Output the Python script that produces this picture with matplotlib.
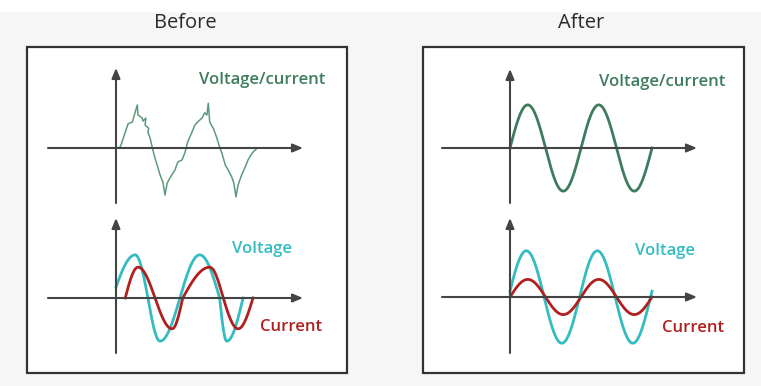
"""
Before/after power factor correction sketch: distorted voltage/current
on the left, clean in-phase sine waves on the right.
"""

import numpy as np
import matplotlib.pyplot as plt
from matplotlib.patches import Rectangle

W, H = 761, 386

# ── data (time in cycles, amplitude normalised) ──
noisy_t = [0.00, 0.06, 0.17, 0.23, 0.30, 0.31, 0.37, 0.38, 0.42, 0.41, 0.46, 0.45,
           0.48, 0.52, 0.55, 0.58, 0.62, 0.66, 0.69, 0.72, 0.76, 0.83, 0.87, 0.93,
           0.97, 1.01, 1.07, 1.11, 1.15, 1.21, 1.25, 1.28, 1.30, 1.32, 1.37, 1.42,
           1.46, 1.49, 1.54, 1.58, 1.63, 1.66, 1.69, 1.72, 1.77, 1.82, 1.86, 1.92, 1.99]
noisy_v = [0.00, 0.02, 0.55, 0.59, 0.98, 0.75, 0.68, 0.61, 0.68, 0.52, 0.45, 0.36,
           0.23, -0.05, -0.23, -0.39, -0.61, -0.77, -1.07, -0.80, -0.68, -0.50, -0.32, -0.27,
           -0.11, 0.14, 0.36, 0.52, 0.59, 0.68, 0.80, 0.75, 1.02, 0.59, 0.45, 0.23,
           0.02, -0.11, -0.39, -0.50, -0.66, -0.80, -1.11, -0.84, -0.61, -0.43, -0.27, -0.11, 0.00]

# "Before" bottom: distorted waves, given as (time, phase) knots
before_volt_t = [0.00, 0.27, 0.45, 0.62, 0.90, 1.18, 1.46, 1.56, 1.79]
before_volt_phase = [0.04, 0.25, 0.50, 0.75, 1.00, 1.25, 1.50, 1.75, 2.00]
before_volt_amp = 0.98
before_curr_t = [0.13, 0.31, 0.55, 0.79, 0.94, 1.32, 1.51, 1.72, 1.93]
before_curr_phase = [0.00, 0.25, 0.50, 0.75, 1.00, 1.25, 1.50, 1.75, 2.00]
before_curr_amp = 0.70

# "After": clean sines, two cycles
after_cycles = 2.0
after_top_amp = 0.98
after_volt_amp = 1.05
after_volt_phase = 0.02
after_curr_amp = 0.40

titles = ["Before", "After"]

GREEN = "#3e7c5e"
GREEN_LIGHT = "#5c9a7c"
CYAN = "#34bcc1"
RED = "#b11f1f"
AXIS = "#444444"
SX, SY = 71.0, 44.0  # pixels per time unit / amplitude unit


def mini_axes(fig, ox, oy, x_left, x_tip, y_bottom, y_tip):
    """Axes placed by pixel geometry, with arrows for x and y axes."""
    ax = fig.add_axes([x_left / W, 1 - y_bottom / H,
                       (x_tip - x_left) / W, (y_bottom - y_tip) / H])
    x0, x1 = (x_left - ox) / SX, (x_tip - ox) / SX
    y0, y1 = (oy - y_bottom) / SY, (oy - y_tip) / SY
    ax.set_xlim(x0, x1)
    ax.set_ylim(y0, y1)
    ax.axis("off")
    arrow = dict(arrowstyle="-|>,head_length=0.6,head_width=0.25",
                 color=AXIS, lw=1.5, shrinkA=0, shrinkB=0)
    ax.annotate("", xy=(x1, 0), xytext=(x0, 0), arrowprops=arrow)
    ax.annotate("", xy=(0, y1), xytext=(0, y0), arrowprops=arrow)
    return ax


def knot_wave(knot_t, knot_phase, amp):
    t = np.linspace(knot_t[0], knot_t[-1], 400)
    phase = np.interp(t, knot_t, knot_phase)
    return t, amp * np.sin(2 * np.pi * phase)


fig = plt.figure(figsize=(W / 100, H / 100), dpi=100)
fig.patch.set_facecolor("#f6f6f6")
bg = fig.add_axes([0, 0, 1, 1])
bg.set_xlim(0, W)
bg.set_ylim(H, 0)
bg.axis("off")
bg.add_patch(Rectangle((0, 0), W, 12, facecolor="white", edgecolor="none"))
for (bx0, bx1), title in zip([(27, 347), (423, 744)], titles):
    bg.add_patch(Rectangle((bx0, 47), bx1 - bx0, 326, facecolor="white",
                           edgecolor="#333333", lw=1.6))
    bg.text((bx0 + bx1) / 2 - 2, 23, title, ha="center", va="center",
            fontsize=14.5, color="#2a2a2a", family="Open Sans", fontweight="medium")

txt = dict(ha="center", va="center", fontsize=12, family="Open Sans",
           fontweight="semibold")

# ── Before, top ──
ax = mini_axes(fig, 116, 148, 48, 303, 203, 68)
ax.plot(noisy_t, noisy_v, color=GREEN_LIGHT, lw=1.1)
bg.text(262, 80, "Voltage/current", color=GREEN, **txt)

# ── Before, bottom ──
ax = mini_axes(fig, 116, 298, 48, 303, 353, 218)
t, v = knot_wave(before_volt_t, before_volt_phase, before_volt_amp)
ax.plot(t, v, color=CYAN, lw=2)
t, c = knot_wave(before_curr_t, before_curr_phase, before_curr_amp)
ax.plot(t, c, color=RED, lw=2)
bg.text(262, 249, "Voltage", color=CYAN, **txt)
bg.text(291, 327, "Current", color=RED, **txt)

# ── After, top ──
t = np.linspace(0, after_cycles, 400)
ax = mini_axes(fig, 510, 148, 442, 697, 203, 69)
ax.plot(t, after_top_amp * np.sin(2 * np.pi * t), color=GREEN, lw=2)
bg.text(662, 82, "Voltage/current", color=GREEN, **txt)

# ── After, bottom ──
ax = mini_axes(fig, 510, 297, 442, 697, 353, 218)
ax.plot(t, after_volt_amp * np.sin(2 * np.pi * (t + after_volt_phase)), color=CYAN, lw=2)
ax.plot(t, after_curr_amp * np.sin(2 * np.pi * t), color=RED, lw=2)
bg.text(665, 251, "Voltage", color=CYAN, **txt)
bg.text(693, 328, "Current", color=RED, **txt)

fig.savefig("out.png", dpi=100, facecolor=fig.get_facecolor())
